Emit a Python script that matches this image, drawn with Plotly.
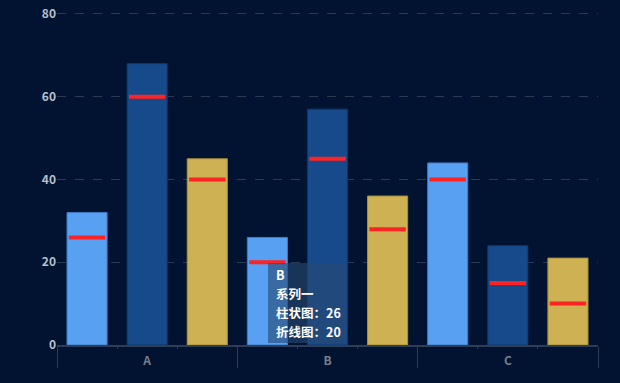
import plotly.graph_objects as go

categories = ["A", "B", "C"]
bar_names = ["系列一", "系列二", "系列三"]
bar_values = {
    "系列一": [32, 26, 44],
    "系列二": [68, 57, 24],
    "系列三": [45, 36, 21],
}
line_values = {
    "系列一": [26, 20, 40],
    "系列二": [60, 45, 15],
    "系列三": [40, 28, 10],
}
y_ticks = [0, 20, 40, 60, 80]

bar_colors = ["#57a0f2", "#174a8b", "#cdb152"]
bar_borders = ["#3f7cc4", "#0f3868", "#a8903e"]

fig = go.Figure()
for i, name in enumerate(bar_names):
    fig.add_trace(go.Bar(
        x=categories, y=bar_values[name], name=name,
        offsetgroup=str(i),
        marker=dict(color=bar_colors[i], line=dict(color=bar_borders[i], width=1)),
        hoverinfo="skip",
    ))
for i, name in enumerate(bar_names):
    fig.add_trace(go.Scatter(
        x=categories, y=line_values[name], name=name + "折线",
        mode="markers", offsetgroup=str(i),
        marker=dict(symbol="line-ew", size=26, line=dict(color="#ff2323", width=4)),
        hoverinfo="skip",
    ))

# minor ticks between bars inside each category (secondary overlay axis)
n = len(categories)
minor_ticks = [i - 0.5 + k / 3 for i in range(n) for k in (1, 2)]
fig.add_trace(go.Scatter(x=[], y=[], xaxis="x2", yaxis="y", showlegend=False, hoverinfo="skip"))

# tooltip for B / 系列一
tip_lines = [
    "B",
    bar_names[0],
    "柱状图：" + str(bar_values["系列一"][1]),
    "折线图：" + str(line_values["系列一"][1]),
]
fig.add_annotation(
    x="B", y=0, xref="x", yref="y", xanchor="left", yanchor="bottom",
    xshift=-60, yshift=2, text=" ", width=77, height=80, borderpad=0,
    showarrow=False, bgcolor="rgba(40,72,115,0.62)", borderwidth=0,
)
for k, line in enumerate(tip_lines):
    fig.add_annotation(
        x="B", y=0, xref="x", yref="y", xanchor="left", yanchor="middle",
        xshift=-54, yshift=71 - k * 19, text=line, showarrow=False, align="left",
        font=dict(color="#ffffff", size=12.5, family="Noto Sans CJK SC", weight="bold"),
    )

fig.update_layout(
    width=620, height=383,
    margin=dict(l=57, r=22, t=12, b=38, autoexpand=False),
    paper_bgcolor="#011330", plot_bgcolor="#011330",
    barmode="group", bargap=0.0, bargroupgap=0.333,
    scattermode="group", scattergap=0.0,
    showlegend=False,
    font=dict(family="Noto Sans CJK SC", color="#8a93a3", size=12),
    xaxis=dict(
        showgrid=False, automargin=False,
        showline=True, linecolor="#2c3d55", linewidth=2,
        ticks="outside", ticklen=21, tickcolor="#2c3d55", tickwidth=1,
        tickson="boundaries",
        tickfont=dict(color="#777e8a", size=12, weight="bold"),
        ticklabelstandoff=4,
    ),
    xaxis2=dict(
        overlaying="x", anchor="y", side="bottom", automargin=False,
        range=[-0.5, n - 0.5], tickvals=minor_ticks, showticklabels=False,
        ticks="outside", ticklen=3, tickcolor="#2c3d55", tickwidth=1,
        showgrid=False, showline=False, zeroline=False,
    ),
    yaxis=dict(
        range=[0, 80.48], tickvals=y_ticks, automargin=False,
        showgrid=True, gridcolor="#2a3a50", griddash="dash", gridwidth=1,
        zeroline=False, showline=False,
        ticks="", tickfont=dict(color="#b8c0cc", size=12, weight="bold"),
        ticklabelstandoff=0,
    ),
)

fig.write_html(
    "out.html",
    config={"displayModeBar": False},
    post_script="document.body.style.margin='0';document.body.style.overflow='hidden';",
)
